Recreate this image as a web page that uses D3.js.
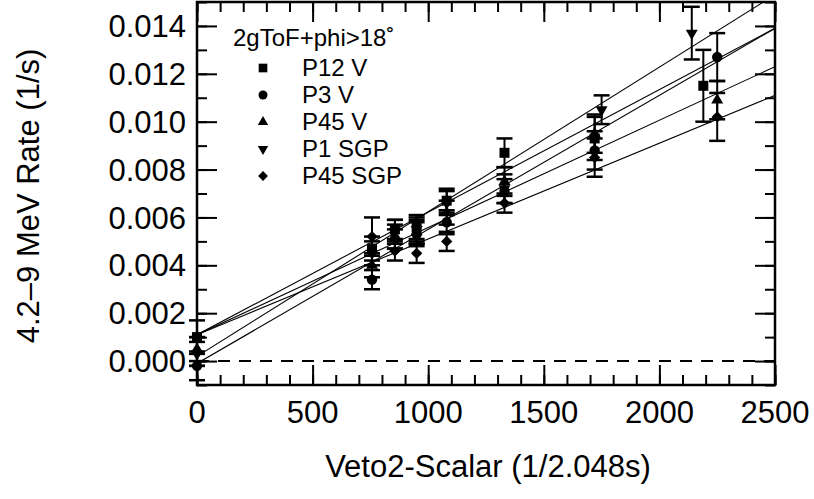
<!DOCTYPE html>
<html>
<head>
<meta charset="utf-8">
<script src="https://cdn.jsdelivr.net/npm/d3@7"></script>
<style>
  body { margin: 0; background: #fff; }
  svg { display: block; font-family: "Liberation Sans", Arial, sans-serif; }
</style>
</head>
<body>
<div id="chart"></div>
<script>
// Veto2-Scalar vs 4.2-9 MeV rate, five detector sets with linear fits

const seriesNames = ["P12 V", "P3 V", "P45 V", "P1 SGP", "P45 SGP"];

const scalerP12V = [0, 757, 856, 950, 1080, 1330, 1720, 2190];
const rateP12V = [0.0010, 0.0047, 0.0055, 0.0056, 0.0067, 0.0087, 0.0093, 0.0115];
const errP12V = [0.0007, 0.0005, 0.0004, 0.0005, 0.0005, 0.0006, 0.0009, 0.0015];

const scalerP3V = [0, 757, 856, 950, 1080, 1330, 1720, 2250];
const rateP3V = [-0.0002, 0.0034, 0.0051, 0.0053, 0.0058, 0.0071, 0.0088, 0.0127];
const errP3V = [0.0006, 0.0004, 0.0004, 0.0005, 0.0005, 0.0005, 0.0008, 0.0010];

const scalerP45V = [0, 757, 856, 950, 1080, 1330, 1720, 2250];
const rateP45V = [0.0005, 0.0040, 0.0052, 0.0054, 0.0062, 0.0075, 0.0095, 0.0109];
const errP45V = [0.0005, 0.0005, 0.0005, 0.0005, 0.0005, 0.0006, 0.0008, 0.0008];

const scalerP1SGP = [0, 757, 856, 950, 1080, 1330, 1750, 2140];
const rateP1SGP = [0.0003, 0.0045, 0.0054, 0.0055, 0.0066, 0.0072, 0.0105, 0.0137];
const errP1SGP = [0.0005, 0.0005, 0.0005, 0.0005, 0.0005, 0.0006, 0.0006, 0.0011];

const scalerP45SGP = [0, 757, 856, 950, 1080, 1330, 1720, 2250];
const rateP45SGP = [0.0004, 0.0052, 0.0046, 0.0045, 0.0050, 0.0066, 0.0085, 0.0102];
const errP45SGP = [0.0006, 0.0008, 0.0004, 0.0004, 0.0004, 0.0004, 0.0008, 0.0010];

// fitted lines: rate = intercept + slope * scaler
const fitIntercepts = [0.0011, -0.0001, 0.0011, 0.0002, 0.0011];
const fitSlopes = [5.12e-6, 5.6e-6, 4.48e-6, 6.04e-6, 4.0e-6];

const xMajorTicks = [0, 500, 1000, 1500, 2000, 2500];
const yMajorTicks = [0, 0.002, 0.004, 0.006, 0.008, 0.010, 0.012, 0.014];

const allSeries = [
  { name: seriesNames[0], x: scalerP12V, y: rateP12V, err: errP12V, shape: "square" },
  { name: seriesNames[1], x: scalerP3V, y: rateP3V, err: errP3V, shape: "circle" },
  { name: seriesNames[2], x: scalerP45V, y: rateP45V, err: errP45V, shape: "up" },
  { name: seriesNames[3], x: scalerP1SGP, y: rateP1SGP, err: errP1SGP, shape: "down" },
  { name: seriesNames[4], x: scalerP45SGP, y: rateP45SGP, err: errP45SGP, shape: "diamond" },
];

const width = 814;
const height = 499;
const margin = { top: 2, right: 39, bottom: 114, left: 197 };
const plotW = width - margin.left - margin.right;
const plotH = height - margin.top - margin.bottom;

const svg = d3
  .select("#chart")
  .append("svg")
  .attr("width", width)
  .attr("height", height);

const g = svg
  .append("g")
  .attr("transform", `translate(${margin.left},${margin.top})`);

const x = d3.scaleLinear().domain([0, 2500]).range([0, plotW]);
const y = d3.scaleLinear().domain([-0.001, 0.015]).range([plotH, 0]);

g.append("clipPath")
  .attr("id", "clip")
  .append("rect")
  .attr("width", plotW)
  .attr("height", plotH);

// minor + major ticks on all four sides, pointing inward
const xMinor = d3.range(0, 2501, 100);
const yMinor = d3.range(-0.001, 0.0151, 0.001);

function styleAxis(sel) {
  sel.select(".domain").remove();
  sel.selectAll(".tick line").attr("stroke", "#000").attr("stroke-width", 2);
  sel.selectAll("text").remove();
}

g.append("g")
  .attr("transform", `translate(0,${plotH})`)
  .call(d3.axisBottom(x).tickValues(xMinor).tickSize(-10))
  .call(styleAxis);
g.append("g")
  .attr("transform", `translate(0,${plotH})`)
  .call(d3.axisBottom(x).tickValues(xMajorTicks).tickSize(-20))
  .call(styleAxis);
g.append("g")
  .call(d3.axisTop(x).tickValues(xMinor).tickSize(-10))
  .call(styleAxis);
g.append("g")
  .call(d3.axisTop(x).tickValues(xMajorTicks).tickSize(-20))
  .call(styleAxis);
g.append("g")
  .call(d3.axisLeft(y).tickValues(yMinor).tickSize(-10))
  .call(styleAxis);
g.append("g")
  .call(d3.axisLeft(y).tickValues(yMajorTicks).tickSize(-20))
  .call(styleAxis);
g.append("g")
  .attr("transform", `translate(${plotW},0)`)
  .call(d3.axisRight(y).tickValues(yMinor).tickSize(-10))
  .call(styleAxis);
g.append("g")
  .attr("transform", `translate(${plotW},0)`)
  .call(d3.axisRight(y).tickValues(yMajorTicks).tickSize(-20))
  .call(styleAxis);

// tick labels
g.selectAll(".xlab")
  .data(xMajorTicks)
  .join("text")
  .attr("x", (d) => x(d))
  .attr("y", plotH + 38)
  .attr("text-anchor", "middle")
  .attr("font-size", 31)
  .text((d) => d);

g.selectAll(".ylab")
  .data(yMajorTicks)
  .join("text")
  .attr("x", -11)
  .attr("y", (d) => y(d))
  .attr("dy", "0.36em")
  .attr("text-anchor", "end")
  .attr("font-size", 31)
  .text((d) => d3.format(".3f")(d));

// zero line
g.append("line")
  .attr("x1", 0)
  .attr("x2", plotW)
  .attr("y1", y(0))
  .attr("y2", y(0))
  .attr("stroke", "#000")
  .attr("stroke-width", 2)
  .attr("stroke-dasharray", "12 9");

// fit lines
const fits = g.append("g").attr("clip-path", "url(#clip)");
seriesNames.forEach((name, i) => {
  fits
    .append("line")
    .attr("x1", x(0))
    .attr("x2", x(2500))
    .attr("y1", y(fitIntercepts[i]))
    .attr("y2", y(fitIntercepts[i] + fitSlopes[i] * 2500))
    .attr("stroke", "#000")
    .attr("stroke-width", 1.1);
});

function symbolPath(shape, scale) {
  const s = scale || 1;
  if (shape === "square") return d3.symbol(d3.symbolSquare, 100 * s)();
  if (shape === "circle") return d3.symbol(d3.symbolCircle, 85 * s)();
  if (shape === "up" || shape === "down") return d3.symbol(d3.symbolTriangle, 62 * s)();
  return d3.symbol(d3.symbolSquare, 64 * s)();
}

function symbolRotate(shape) {
  if (shape === "down") return 180;
  if (shape === "diamond") return 45;
  return 0;
}

// error bars + markers
allSeries.forEach((s) => {
  const pts = s.x.map((v, i) => ({ x: v, y: s.y[i], e: s.err[i] }));
  const grp = g.append("g");

  grp
    .selectAll(".bar")
    .data(pts)
    .join("line")
    .attr("x1", (d) => x(d.x))
    .attr("x2", (d) => x(d.x))
    .attr("y1", (d) => y(d.y - d.e))
    .attr("y2", (d) => y(d.y + d.e))
    .attr("stroke", "#000")
    .attr("stroke-width", 2);

  [-1, 1].forEach((sign) => {
    grp
      .selectAll(".cap" + sign)
      .data(pts)
      .join("line")
      .attr("x1", (d) => x(d.x) - 8)
      .attr("x2", (d) => x(d.x) + 8)
      .attr("y1", (d) => y(d.y + sign * d.e))
      .attr("y2", (d) => y(d.y + sign * d.e))
      .attr("stroke", "#000")
      .attr("stroke-width", 2.5);
  });

  grp
    .selectAll(".pt")
    .data(pts)
    .join("path")
    .attr("d", symbolPath(s.shape))
    .attr(
      "transform",
      (d) => `translate(${x(d.x)},${y(d.y)}) rotate(${symbolRotate(s.shape)})`,
    )
    .attr("fill", "#000");
});

// frame
g.append("rect")
  .attr("width", plotW)
  .attr("height", plotH)
  .attr("fill", "none")
  .attr("stroke", "#000")
  .attr("stroke-width", 2.5);

// legend
const legend = g.append("g").attr("transform", "translate(36,0)");
legend
  .append("text")
  .attr("x", 0)
  .attr("y", 44)
  .attr("font-size", 24)
  .text("2gToF+phi>18˚");

allSeries.forEach((s, i) => {
  const cy = 66 + i * 27;
  legend
    .append("path")
    .attr("d", symbolPath(s.shape, 0.75))
    .attr("transform", `translate(30,${cy}) rotate(${symbolRotate(s.shape)})`)
    .attr("fill", "#000");
  legend
    .append("text")
    .attr("x", 69)
    .attr("y", cy + 8)
    .attr("font-size", 24)
    .text(s.name);
});

// axis titles
svg
  .append("text")
  .attr("x", 488)
  .attr("y", 477)
  .attr("text-anchor", "middle")
  .attr("font-size", 31)
  .text("Veto2-Scalar (1/2.048s)");

svg
  .append("text")
  .attr("transform", "rotate(-90)")
  .attr("x", -196)
  .attr("y", 39)
  .attr("text-anchor", "middle")
  .attr("font-size", 31)
  .text("4.2–9 MeV Rate (1/s)");
</script>
</body>
</html>
